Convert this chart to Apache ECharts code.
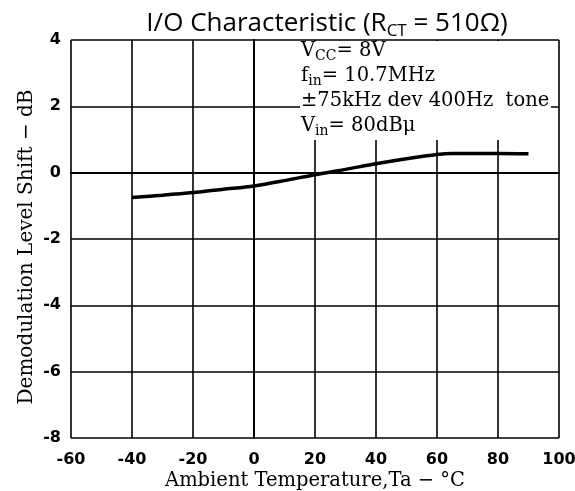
<!DOCTYPE html>
<html><head><meta charset="utf-8">
<script src="https://cdn.jsdelivr.net/npm/echarts@6/dist/echarts.min.js"></script>
<style>html,body{margin:0;padding:0;background:#fff}#c{width:575px;height:491px}</style>
</head><body><div id="c"></div>
<script>
// Data
const temps  = [-40, -30, -20, -10, 0, 10, 20, 30, 40, 50, 60, 65, 70, 80, 90];
const shifts = [-0.75, -0.68, -0.6, -0.5, -0.4, -0.24, -0.06, 0.1, 0.27, 0.42, 0.55, 0.58, 0.58, 0.58, 0.57];
const xTicks = [-60, -40, -20, 0, 20, 40, 60, 80, 100];
const yTicks = [-8, -6, -4, -2, 0, 2, 4];

const chart = echarts.init(document.getElementById('c'), null, {renderer: 'canvas'});
const serif = '"DejaVu Serif", "Liberation Serif", serif';
const tickFont = {color: '#000', fontFamily: '"DejaVu Sans", sans-serif', fontWeight: 'bold', fontSize: 16};
chart.setOption({
  animation: false,
  backgroundColor: '#fff',
  title: {
    text: '{a|I/O Characteristic (R}{s|CT}{a| = 510Ω)}',
    left: 322, top: 3, textAlign: 'center',
    textStyle: {
      fontWeight: 'normal',
      rich: {
        a: {fontFamily: '"Open Sans", "Noto Sans", sans-serif', fontSize: 26, fontWeight: 'normal', color: '#000', lineHeight: 32, verticalAlign: 'middle'},
        s: {fontFamily: '"Open Sans", "Noto Sans", sans-serif', fontSize: 17, fontWeight: 'normal', color: '#000', lineHeight: 17, verticalAlign: 'bottom'}
      }
    }
  },
  grid: {left: 71, right: 16, top: 40, bottom: 53, containLabel: false, outerBoundsMode: 'none'},
  xAxis: {
    type: 'value', min: xTicks[0], max: xTicks[xTicks.length - 1], interval: 20,
    name: 'Ambient Temperature,Ta − °C', nameLocation: 'middle', nameGap: 33, nameMoveOverlap: false,
    nameTextStyle: {fontFamily: serif, fontSize: 19.5, color: '#000'},
    axisLine: {lineStyle: {color: '#000', width: 2}},
    axisTick: {show: false},
    axisLabel: Object.assign({margin: 14}, tickFont),
    splitLine: {lineStyle: {color: '#000', width: 1.6}}
  },
  yAxis: {
    type: 'value', min: yTicks[0], max: yTicks[yTicks.length - 1], interval: 2,
    name: 'Demodulation Level Shift − dB', nameLocation: 'middle', nameGap: 34, nameMoveOverlap: false,
    nameTextStyle: {fontFamily: serif, fontSize: 20, color: '#000', padding: [0, 16, 0, 0]},
    axisLine: {show: true, lineStyle: {color: '#000', width: 2}},
    axisTick: {show: false},
    axisLabel: Object.assign({margin: 10}, tickFont),
    splitLine: {lineStyle: {color: '#000', width: 1.6}}
  },
  series: [{
    type: 'line', smooth: 0.3, symbol: 'none',
    data: temps.map((t, i) => [t, shifts[i]]),
    lineStyle: {color: '#000', width: 3.5}, z: 3
  }],
  graphic: [
    {type: 'rect', left: 300, top: 41, shape: {width: 251, height: 99}, style: {fill: '#fff'}, z: 10},
    {type: 'text', left: 301, top: 41, z: 11, style: {
      text: '{t|V}{s|CC}{t|= 8V}\n{t|f}{s|in}{t|= 10.7MHz}\n{t|±75kHz dev 400Hz  tone}\n{t|V}{s|in}{t|= 80dBμ}',
      rich: {
        t: {fontFamily: serif, fontSize: 19.5, fill: '#000', lineHeight: 25, verticalAlign: 'middle'},
        s: {fontFamily: serif, fontSize: 14, fill: '#000', lineHeight: 14, verticalAlign: 'bottom'}
      }
    }}
  ]
});
</script></body></html>
